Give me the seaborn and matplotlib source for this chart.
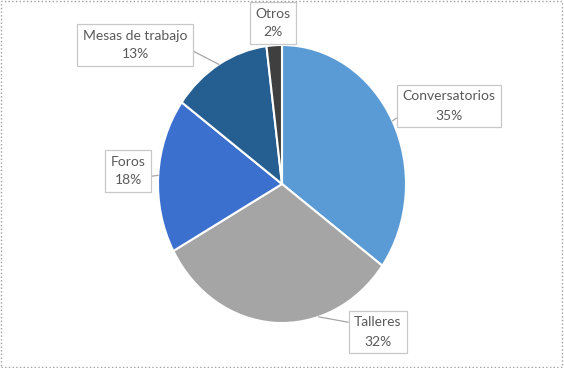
import matplotlib
matplotlib.use("Agg")
import matplotlib.pyplot as plt
import seaborn as sns
import numpy as np
from matplotlib.patches import Rectangle

# ---- data ----
categories = ["Conversatorios", "Talleres", "Foros", "Mesas de trabajo", "Otros"]
values = [35, 32, 18, 13, 2]
pct_labels = ["35%", "32%", "18%", "13%", "2%"]
colors = ["#5B9BD5", "#A5A5A5", "#3C70CE", "#255E91", "#3F3F3F"]

sns.set_theme(style="white")
plt.rcParams["font.family"] = ["Lato", "DejaVu Sans"]

W, H = 564, 368
fig = plt.figure(figsize=(W / 100, H / 100), dpi=100)
fig.patch.set_facecolor("white")

cx, cy, rx, ry = 282, 184, 124, 139
ax = fig.add_axes([(cx - rx) / W, (H - cy - ry) / H, 2 * rx / W, 2 * ry / H])
wedges, _ = ax.pie(values, colors=colors, startangle=90, counterclock=False,
                   wedgeprops=dict(edgecolor="white", linewidth=1.5), radius=1)
ax.set_aspect("auto")
ax.set_xlim(-1, 1)
ax.set_ylim(-1, 1)
ax.axis("off")

# label box centres (pixels from top-left), leader attachment fraction within wedge,
# and start point of the leader on the label box
label_pos = [(449, 106), (378, 332), (128, 171), (135, 45), (273, 23)]
leader_frac = [0.5, 0.68, 0.5, 0.5, None]
leader_rel = [(0, 0.25), (0, 0.78), (1, 0.3), (1, 0.4), None]

for w, cat, pct, (px, py), lf, rp in zip(wedges, categories, pct_labels, label_pos,
                                         leader_frac, leader_rel):
    text = f"{cat}\n{pct}"
    xt = (px / W, 1 - py / H)
    if lf is not None:
        ang = np.deg2rad(w.theta1 + lf * (w.theta2 - w.theta1))
        xy = (np.cos(ang), np.sin(ang))
        arrow = dict(arrowstyle="-", color="#A6A6A6", lw=0.9, shrinkA=0, shrinkB=0,
                     relpos=rp)
    else:
        xy = xt
        arrow = None
    ax.annotate(text, xy=xy, xycoords="data", xytext=xt, textcoords="figure fraction",
                ha="center", va="center", fontsize=10, color="#595959",
                linespacing=1.7,
                bbox=dict(boxstyle="square,pad=0.4", fc="white", ec="#C8C8C8", lw=0.9),
                arrowprops=arrow, annotation_clip=False)

fig.patches.append(Rectangle((0.002, 0.003), 0.995, 0.994, transform=fig.transFigure,
                             fill=False, ec="#A0A0A0", ls=":", lw=1))

fig.savefig("out.png", dpi=100)
